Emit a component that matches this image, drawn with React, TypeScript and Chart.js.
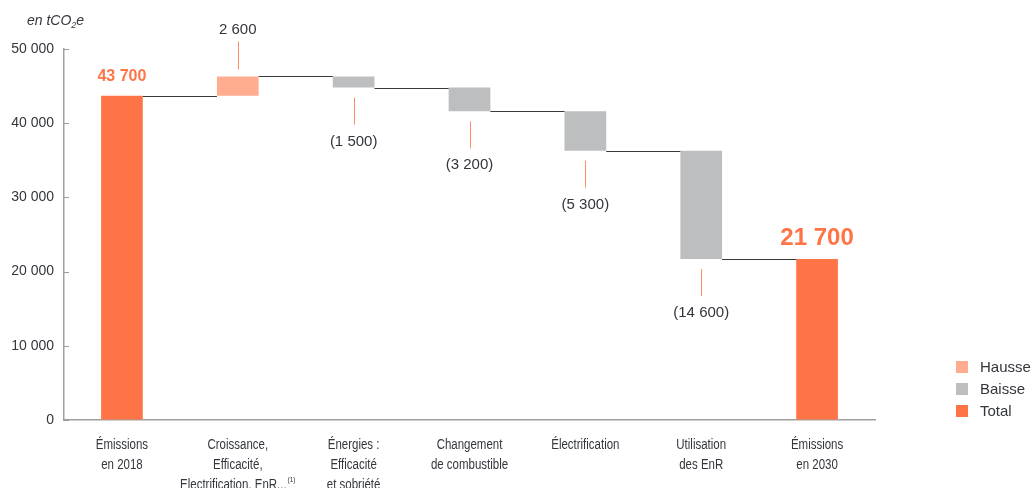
import React, { useEffect, useRef } from "react";
import { Chart, registerables } from "chart.js";

Chart.register(...registerables);

const categories: string[][] = [
  ["Émissions", "en 2018"],
  ["Croissance,", "Efficacité,", "Electrification, EnR...⁽¹⁾"],
  ["Énergies :", "Efficacité", "et sobriété"],
  ["Changement", "de combustible"],
  ["Électrification"],
  ["Utilisation", "des EnR"],
  ["Émissions", "en 2030"],
];
const steps = [43700, 2600, -1500, -3200, -5300, -14600, 21700];
const kinds = ["total", "hausse", "baisse", "baisse", "baisse", "baisse", "total"];
const valueLabels = ["43 700", "2 600", "(1 500)", "(3 200)", "(5 300)", "(14 600)", "21 700"];
const legendKeys = ["hausse", "baisse", "total"];
const legendLabels = ["Hausse", "Baisse", "Total"];
const yMin = 0;
const yMax = 50000;
const yStep = 10000;

const COLORS: Record<string, string> = {
  hausse: "#FFAC8F",
  baisse: "#BDBEC0",
  total: "#FF7446",
};
const TEXT = "#33363d";
const SANS = "'Liberation Sans', Arial, sans-serif";
const SUP = "⁽¹⁾";

function fmt(v: number) {
  return String(v).replace(/\B(?=(\d{3})+(?!\d))/g, " ");
}

// build floating ranges and running ends
const ranges: [number, number][] = [];
const ends: number[] = [];
{
  let running = 0;
  steps.forEach((s, i) => {
    if (kinds[i] === "total") {
      ranges.push([0, s]);
      running = s;
    } else {
      const a = running;
      const b = running + s;
      ranges.push([Math.min(a, b), Math.max(a, b)]);
      running = b;
    }
    ends.push(running);
  });
}

const datasets = legendKeys.map((k, di) => ({
  label: legendLabels[di],
  data: ranges.map((r, i) => (kinds[i] === k ? r : null)),
  backgroundColor: COLORS[k],
  borderWidth: 0,
  categoryPercentage: 1,
  barPercentage: 0.36,
}));

function getEl(chart: any, i: number) {
  for (let d = 0; d < chart.data.datasets.length; d++) {
    if (chart.data.datasets[d].data[i] != null) {
      return chart.getDatasetMeta(d).data[i];
    }
  }
  return null;
}

const waterfallPlugin = {
  id: "waterfallExtras",
  afterDatasetsDraw(chart: any) {
    const ctx = chart.ctx;
    const y = chart.scales.y;
    const x = chart.scales.x;
    const area = chart.chartArea;
    ctx.save();

    // connectors
    ctx.strokeStyle = "#3a3a3a";
    ctx.lineWidth = 1.2;
    for (let i = 0; i < steps.length - 1; i++) {
      const a = getEl(chart, i);
      const b = getEl(chart, i + 1);
      if (!a || !b) continue;
      const py = Math.round(y.getPixelForValue(ends[i])) + 0.5;
      ctx.beginPath();
      ctx.moveTo(a.x + a.width / 2, py);
      ctx.lineTo(b.x - b.width / 2, py);
      ctx.stroke();
    }

    // value labels
    for (let i = 0; i < steps.length; i++) {
      const el = getEl(chart, i);
      if (!el) continue;
      const [lo, hi] = ranges[i];
      const topPx = y.getPixelForValue(hi);
      const botPx = y.getPixelForValue(lo);
      ctx.textAlign = "center";
      ctx.textBaseline = "middle";
      if (kinds[i] === "total") {
        const big = i === steps.length - 1;
        ctx.fillStyle = "#FF7446";
        ctx.font = `bold ${big ? 24 : 16}px ${SANS}`;
        ctx.fillText(valueLabels[i], el.x, topPx - (big ? 21 : 19));
      } else if (kinds[i] === "hausse") {
        ctx.strokeStyle = "#FF8C66";
        ctx.lineWidth = 1;
        ctx.beginPath();
        ctx.moveTo(Math.round(el.x) + 0.5, topPx - 7);
        ctx.lineTo(Math.round(el.x) + 0.5, topPx - 35);
        ctx.stroke();
        ctx.fillStyle = TEXT;
        ctx.font = `15px ${SANS}`;
        ctx.fillText(valueLabels[i], el.x, topPx - 47);
      } else {
        ctx.strokeStyle = "#FF8C66";
        ctx.lineWidth = 1;
        ctx.beginPath();
        ctx.moveTo(Math.round(el.x) + 0.5, botPx + 10);
        ctx.lineTo(Math.round(el.x) + 0.5, botPx + 37);
        ctx.stroke();
        ctx.fillStyle = TEXT;
        ctx.font = `15px ${SANS}`;
        ctx.fillText(valueLabels[i], el.x, botPx + 54);
      }
    }

    // inward y ticks
    ctx.strokeStyle = "#9a9a9a";
    ctx.lineWidth = 1;
    for (let v = yMin; v <= yMax; v += yStep) {
      const py = Math.round(y.getPixelForValue(v)) + 0.5;
      ctx.beginPath();
      ctx.moveTo(area.left, py);
      ctx.lineTo(area.left + 5, py);
      ctx.stroke();
    }

    // category labels (condensed look), positioned by the x scale
    const labels = chart.data.labels as string[][];
    const sx = 0.82;
    labels.forEach((lines, i) => {
      const cx = x.getPixelForTick(i);
      lines.forEach((line, li) => {
        const cy = area.bottom + 25 + li * 20;
        let txt = line;
        let sup = "";
        if (txt.endsWith(SUP)) {
          txt = txt.slice(0, -SUP.length);
          sup = "(1)";
        }
        ctx.save();
        ctx.font = `14px ${SANS}`;
        const w = ctx.measureText(txt).width;
        ctx.font = `8px ${SANS}`;
        const ws = sup ? ctx.measureText(sup).width + 1 : 0;
        const total = w + ws;
        ctx.translate(cx, cy);
        ctx.scale(sx, 1);
        ctx.fillStyle = TEXT;
        ctx.textBaseline = "middle";
        ctx.textAlign = "left";
        ctx.font = `14px ${SANS}`;
        ctx.fillText(txt, -total / 2, 0);
        if (sup) {
          ctx.font = `8px ${SANS}`;
          ctx.fillText(sup, -total / 2 + w + 1, -5);
        }
        ctx.restore();
      });
    });

    // axis unit title: en tCO2e
    ctx.fillStyle = TEXT;
    ctx.textAlign = "left";
    ctx.textBaseline = "alphabetic";
    ctx.font = `italic 14px ${SANS}`;
    let tx = 27;
    const ty = 25;
    ctx.fillText("en tCO", tx, ty);
    tx += ctx.measureText("en tCO").width;
    ctx.font = `italic 9px ${SANS}`;
    ctx.fillText("2", tx, ty + 3);
    tx += ctx.measureText("2").width;
    ctx.font = `italic 14px ${SANS}`;
    ctx.fillText("e", tx, ty);

    // legend
    const lx = 956;
    const rows = [367, 389, 411];
    legendKeys.forEach((k, i) => {
      ctx.fillStyle = COLORS[k];
      ctx.fillRect(lx, rows[i] - 6, 12, 12);
      ctx.fillStyle = TEXT;
      ctx.font = `15px ${SANS}`;
      ctx.textBaseline = "middle";
      ctx.fillText(legendLabels[i], lx + 24, rows[i] + 1);
    });

    ctx.restore();
  },
};

export default function App() {
  const ref = useRef<HTMLCanvasElement | null>(null);
  useEffect(() => {
    if (!ref.current) return;
    const chart = new Chart(ref.current, {
      type: "bar",
      data: {
        labels: categories,
        datasets: datasets as any,
      },
      options: {
        animation: false,
        responsive: true,
        maintainAspectRatio: false,
        layout: { padding: { top: 49, right: 156, left: 0, bottom: 0 } },
        plugins: {
          legend: { display: false },
          tooltip: { enabled: false },
        },
        scales: {
          x: {
            stacked: true,
            grid: { display: false, drawTicks: false },
            border: { display: true, color: "#a0a0a0", width: 1.5 },
            ticks: { display: false },
            afterFit: (s: any) => {
              s.height = 68;
            },
          },
          y: {
            min: yMin,
            max: yMax,
            grid: { drawOnChartArea: false, drawTicks: false },
            border: { display: true, color: "#a0a0a0", width: 1.5 },
            ticks: {
              stepSize: yStep,
              color: TEXT,
              font: { family: SANS, size: 14 },
              padding: 10,
              callback: (v: any) => fmt(Number(v)),
            },
            afterFit: (s: any) => {
              s.width = 64;
            },
          },
        },
      },
      plugins: [waterfallPlugin],
    });
    return () => chart.destroy();
  }, []);
  return (
    <div style={{ position: "fixed", left: 0, top: 0, width: 1031, height: 488, background: "#fff" }}>
      <canvas ref={ref} />
    </div>
  );
}
